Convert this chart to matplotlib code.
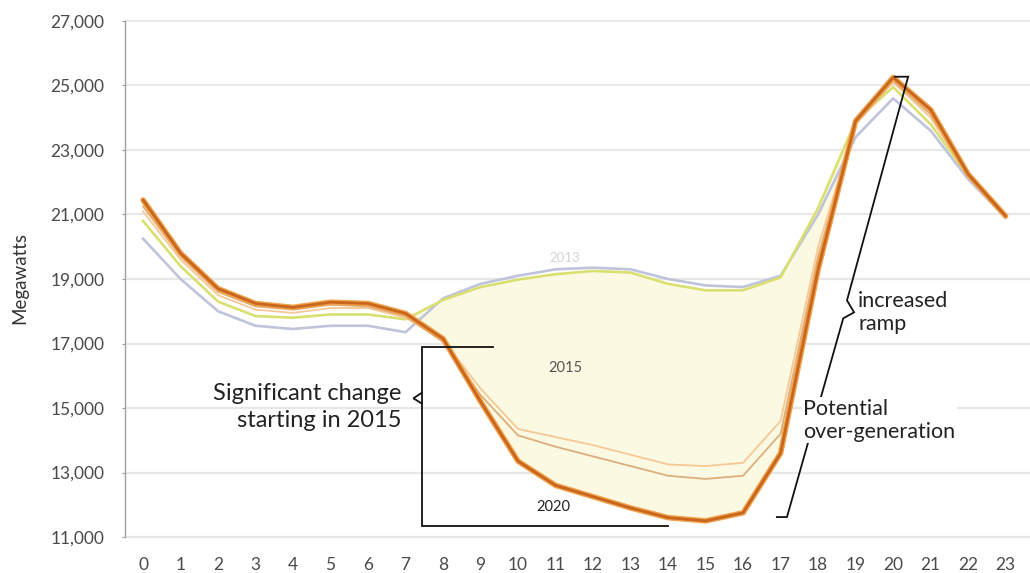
import matplotlib
matplotlib.use("Agg")
import matplotlib.pyplot as plt
from matplotlib.ticker import FuncFormatter

plt.rcParams['font.family'] = ['Lato', 'DejaVu Sans']

# Hourly net load (MW)
hours = list(range(24))
mw_2012 = [20250, 19000, 18000, 17550, 17450, 17550, 17550, 17350, 18400, 18850,
           19100, 19300, 19350, 19300, 19000, 18800, 18750, 19100, 21000, 23400,
           24600, 23600, 22100, 20900]
mw_2013 = [20800, 19400, 18300, 17850, 17800, 17900, 17900, 17750, 18350, 18750,
           18980, 19150, 19250, 19200, 18850, 18650, 18650, 19050, 21200, 23900,
           24950, 23800, 22200, 21000]
mw_2018 = [21100, 19600, 18500, 18050, 17950, 18100, 18100, 17800, 17100, 15600,
           14350, 14100, 13850, 13550, 13250, 13200, 13300, 14600, 20000, 23800,
           25100, 24000, 22200, 21000]
mw_2019 = [21250, 19700, 18600, 18150, 18050, 18200, 18150, 17850, 17050, 15400,
           14150, 13800, 13500, 13200, 12900, 12800, 12900, 14200, 19700, 23800,
           25150, 24100, 22200, 21000]
mw_2020 = [21450, 19800, 18700, 18240, 18120, 18280, 18240, 17930, 17150, 15200,
           13350, 12600, 12250, 11900, 11600, 11500, 11750, 13600, 19300, 23900,
           25250, 24250, 22250, 20950]
y_ticks = [11000, 13000, 15000, 17000, 19000, 21000, 23000, 25000, 27000]

fig = plt.figure(figsize=(10.3, 5.73), dpi=100)
ax = fig.add_axes([0.1214, 0.060, 0.8786, 0.909])
ax.set_xlim(-0.48, 23.65)
ax.set_ylim(10950, 27100)

# grid and axes styling
for v in y_ticks:
    ax.axhline(v, color='#e8e8e8', lw=1.6, zorder=0)
for s in ['top', 'right', 'bottom']:
    ax.spines[s].set_visible(False)
ax.spines['left'].set_color('#a0a0a0')
ax.spines['left'].set_linewidth(1.0)
ax.spines['left'].set_bounds(11000, 27000)
ax.set_yticks(y_ticks)
ax.yaxis.set_major_formatter(FuncFormatter(lambda v, p: f"{int(v):,}"))
ax.set_xticks(hours)
ax.tick_params(axis='y', length=2, color='#9a9a9a', pad=13, labelsize=12.5,
               labelcolor='#4a4a4a')
ax.tick_params(axis='x', length=0, pad=13, labelsize=12.5, labelcolor='#4a4a4a')
ax.set_ylabel('Megawatts', fontsize=13.5, color='#333333')
ax.yaxis.set_label_coords(-0.107, 0.5)

# belly of the duck
ax.fill_between(hours, mw_2013, mw_2020, where=[u > l for u, l in zip(mw_2013, mw_2020)],
                interpolate=True, color='#fcf9e2', lw=0, zorder=1)

ax.plot(hours, mw_2012, color='#bfc3dc', lw=1.9, zorder=3)
ax.plot(hours, mw_2013, color='#d9e070', lw=1.9, zorder=3)
ax.plot(hours, mw_2018, color='#f5c896', lw=1.3, zorder=3)
ax.plot(hours, mw_2019, color='#dcae7c', lw=1.3, zorder=3)
ax.plot(hours, mw_2020, color='#f0a24c', lw=4.0, zorder=4, solid_capstyle='round')
ax.plot(hours, mw_2020, color='#c8661e', lw=2.0, zorder=5, solid_capstyle='round')

# year labels
ax.text(11.25, 19640, '2013', fontsize=9.5, color='#d4d4d4', ha='center', va='center', zorder=6)
ax.text(11.25, 16230, '2015', fontsize=10.5, color='#555555', ha='center', va='center', zorder=6)
ax.text(10.93, 11930, '2020', fontsize=10.5, color='#222222', ha='center', va='center', zorder=6)

# bracket: significant change
k = dict(color='#111111', lw=1.3, zorder=6, solid_joinstyle='miter')
ax.plot([9.33, 7.43, 7.43, 14.0], [16880, 16880, 11356, 11356], **k)
ax.plot([7.43, 7.21, 7.43], [15470, 15300, 15140], **k)
ax.text(6.9, 15030, 'Significant change\nstarting in 2015', fontsize=17, color='#222222',
        ha='right', va='center', linespacing=1.3, zorder=6)

# bracket: ramp / over-generation
ax.plot([20.05, 20.4, 18.77, 18.96, 18.67, 17.17, 16.9],
        [25272, 25272, 18337, 17966, 17780, 11619, 11619], **k)
ax.text(19.07, 17966, 'increased\nramp', fontsize=15.5, color='#222222',
        ha='left', va='center', linespacing=1.2, zorder=7)
ax.text(17.6, 14622, 'Potential\nover-generation', fontsize=15.5, color='#222222',
        ha='left', va='center', linespacing=1.2, zorder=7,
        bbox=dict(facecolor='white', edgecolor='none', pad=1.0))

fig.savefig('out.png', dpi=100)
